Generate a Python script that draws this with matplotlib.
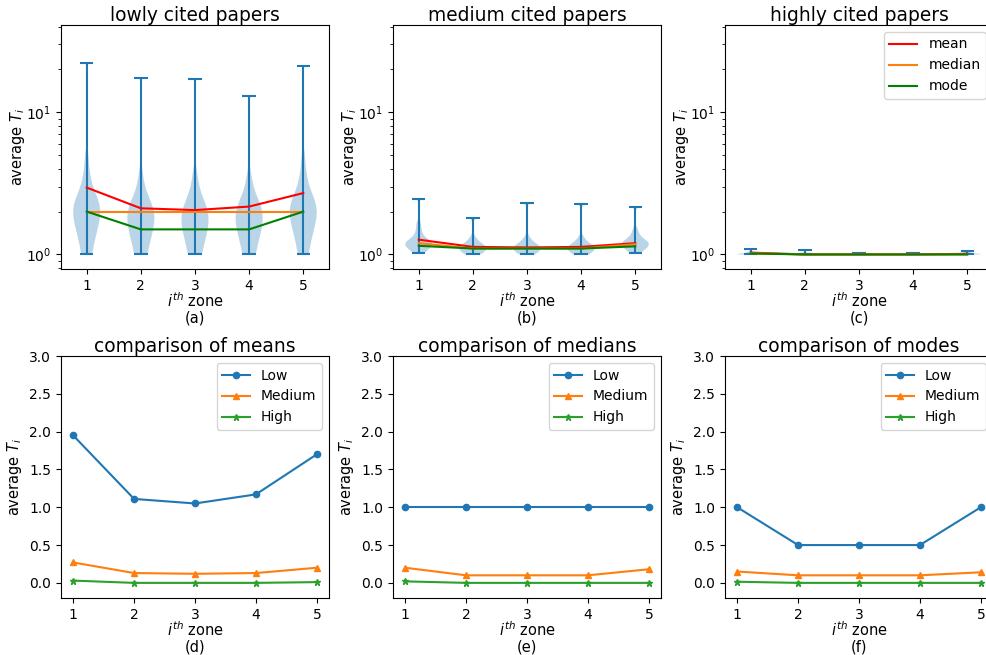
import numpy as np
import matplotlib
matplotlib.use("Agg")
import matplotlib.pyplot as plt

# ---------------- data ----------------
zones = [1, 2, 3, 4, 5]

# comparison values (bottom row); top row shows value + 1 on a log axis
low_mean = [1.95, 1.11, 1.05, 1.17, 1.70]
low_median = [1.0, 1.0, 1.0, 1.0, 1.0]
low_mode = [1.0, 0.5, 0.5, 0.5, 1.0]

med_mean = [0.27, 0.13, 0.12, 0.13, 0.20]
med_median = [0.20, 0.10, 0.10, 0.10, 0.18]
med_mode = [0.15, 0.10, 0.10, 0.10, 0.14]

high_mean = [0.03, 0.0, 0.0, 0.0, 0.01]
high_median = [0.02, 0.0, 0.0, 0.0, 0.0]
high_mode = [0.015, 0.0, 0.0, 0.0, 0.0]

# estimated per-zone samples (plotted scale, T+1) for the violins
low_samples = [
    [1.0, 1.25, 1.45, 1.6, 1.75, 1.85, 1.95, 2.0, 2.0, 2.05, 2.15, 2.3, 2.45, 2.65, 2.9, 3.2, 3.6, 4.2, 5.0, 22.0],
    [1.0, 1.2, 1.35, 1.5, 1.6, 1.7, 1.75, 1.8, 1.85, 1.9, 2.0, 2.1, 2.25, 2.45, 2.7, 3.1, 3.7, 17.5],
    [1.0, 1.2, 1.35, 1.5, 1.6, 1.65, 1.7, 1.75, 1.8, 1.9, 2.0, 2.1, 2.3, 2.5, 2.8, 3.2, 3.8, 17.0],
    [1.0, 1.2, 1.35, 1.5, 1.6, 1.7, 1.75, 1.8, 1.85, 1.9, 2.0, 2.1, 2.25, 2.45, 2.7, 3.1, 3.6, 13.0],
    [1.0, 1.25, 1.45, 1.6, 1.75, 1.85, 1.95, 2.0, 2.0, 2.05, 2.15, 2.3, 2.45, 2.65, 2.9, 3.2, 3.6, 4.2, 5.0, 21.0],
]
med_samples = [
    [1.03, 1.08, 1.12, 1.15, 1.17, 1.18, 1.2, 1.22, 1.25, 1.3, 1.38, 1.5, 1.65, 2.45],
    [1.0, 1.05, 1.08, 1.1, 1.1, 1.12, 1.15, 1.2, 1.3, 1.8],
    [1.0, 1.05, 1.08, 1.1, 1.1, 1.12, 1.15, 1.2, 1.3, 2.3],
    [1.0, 1.05, 1.08, 1.1, 1.1, 1.12, 1.15, 1.2, 1.3, 2.25],
    [1.03, 1.08, 1.12, 1.15, 1.17, 1.18, 1.2, 1.22, 1.25, 1.3, 1.38, 1.5, 2.15],
]
high_samples = [
    [1.0, 1.0, 1.0, 1.0, 1.01, 1.02, 1.04, 1.1],
    [1.0, 1.0, 1.0, 1.0, 1.01, 1.02, 1.08],
    [1.0, 1.0, 1.0, 1.0, 1.005, 1.01, 1.02],
    [1.0, 1.0, 1.0, 1.0, 1.005, 1.01, 1.02],
    [1.0, 1.0, 1.0, 1.0, 1.01, 1.02, 1.05],
]

top_titles = ["lowly cited papers", "medium cited papers", "highly cited papers"]
bottom_titles = ["comparison of means", "comparison of medians", "comparison of modes"]
top_tags = ["(a)", "(b)", "(c)"]
bottom_tags = ["(d)", "(e)", "(f)"]
group_labels = ["Low", "Medium", "High"]

# ---------------- figure ----------------
W, H = 986, 655
fig = plt.figure(figsize=(W / 100, H / 100), dpi=100)

TITLE_FS = 13.4
TICK_FS = 10
LABEL_FS = 10.5
LEG_FS = 10

lefts = [61, 393, 725]
axw = 268
top_row = (25, 269)
bot_row = (356, 598)

def make_ax(left, row):
    t, b = row
    return fig.add_axes([left / W, 1 - b / H, axw / W, (b - t) / H])

top_axes = [make_ax(l, top_row) for l in lefts]
bot_axes = [make_ax(l, bot_row) for l in lefts]

samples = [low_samples, med_samples, high_samples]
bws = [0.5, 0.08, 0.012]
stats_top = [(low_mean, low_median, low_mode),
             (med_mean, med_median, med_mode),
             (high_mean, high_median, high_mode)]

for k, ax in enumerate(top_axes):
    for z, s in zip(zones, samples[k]):
        arr = np.asarray(s)
        factor = bws[k] / np.std(arr, ddof=1)
        parts = ax.violinplot([arr], positions=[z], bw_method=factor)
        for b in parts["bodies"]:
            b.set_facecolor("tab:blue")
            b.set_edgecolor("none")
            b.set_alpha(0.3)
        for key in ("cbars", "cmins", "cmaxes"):
            parts[key].set_color("tab:blue")
    mn, md, mo = stats_top[k]
    ax.plot(zones, np.asarray(mn) + 1, color="red", lw=1.5, label="mean")
    ax.plot(zones, np.asarray(md) + 1, color="tab:orange", lw=1.5, label="median")
    ax.plot(zones, np.asarray(mo) + 1, color="green", lw=1.5, label="mode")
    ax.set_yscale("log")
    ax.set_ylim(0.79, 41)
    ax.set_xticks(zones)
    ax.set_title(top_titles[k], fontsize=TITLE_FS, pad=2)
    ax.set_ylabel("average $T_i$", fontsize=LABEL_FS, labelpad=-1)
    ax.set_xlabel("$i^{th}$ zone\n" + top_tags[k], fontsize=LABEL_FS, labelpad=-1,
                  linespacing=1.0)
    ax.tick_params(labelsize=TICK_FS)
    if k == 2:
        ax.legend(loc="upper right", fontsize=LEG_FS)

bottom_series = [
    (low_mean, med_mean, high_mean),
    (low_median, med_median, high_median),
    (low_mode, med_mode, high_mode),
]
markers = ["o", "^", "*"]
colors = ["tab:blue", "tab:orange", "tab:green"]

for k, ax in enumerate(bot_axes):
    for series, lab, m, c in zip(bottom_series[k], group_labels, markers, colors):
        ax.plot(zones, series, marker=m, color=c, label=lab, markersize=4.5, lw=1.5)
    ax.set_ylim(-0.2, 3.0)
    ax.set_yticks([0.0, 0.5, 1.0, 1.5, 2.0, 2.5, 3.0])
    ax.set_xticks(zones)
    ax.set_title(bottom_titles[k], fontsize=TITLE_FS, pad=3)
    ax.set_ylabel("average $T_i$", fontsize=LABEL_FS)
    ax.set_xlabel("$i^{th}$ zone\n" + bottom_tags[k], fontsize=LABEL_FS, labelpad=-1,
                  linespacing=1.0)
    ax.tick_params(labelsize=TICK_FS)
    ax.legend(loc="upper right", fontsize=LEG_FS)

fig.savefig("out.png", dpi=100)
